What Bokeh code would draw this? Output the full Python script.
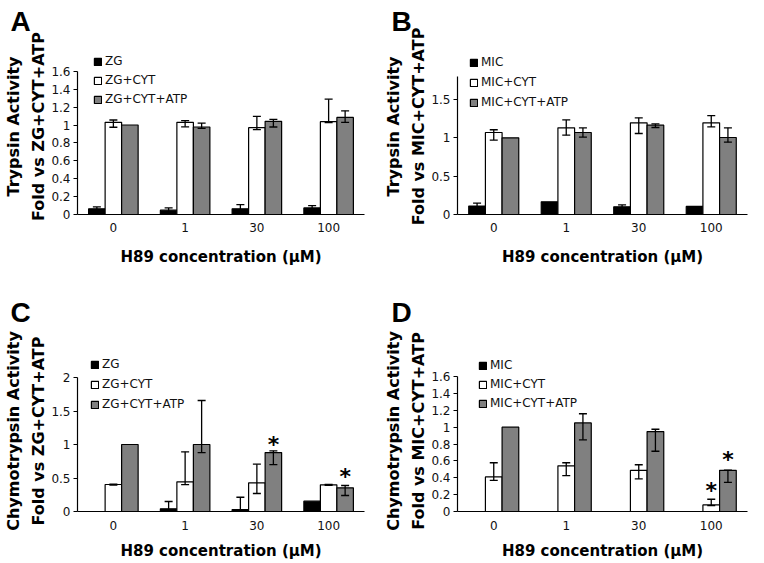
from bokeh.plotting import figure
from bokeh.models import (FactorRange, Range1d, FixedTicker, CustomJSTickFormatter, Whisker,
                          TeeHead, ColumnDataSource, Legend, LegendItem)
from bokeh.transform import dodge
from bokeh.layouts import column, row
from bokeh.embed import file_html
from bokeh.resources import INLINE

# ---------------- data ----------------
cats = ["0", "1", "30", "100"]
x_title = "H89 concentration (\u03bcM)"

# Panel A - Trypsin, ZG
A_ZG = [0.063, 0.048, 0.063, 0.074]
A_ZG_lo = [0.045, 0.03, 0.03, 0.05]
A_ZG_hi = [0.085, 0.074, 0.111, 0.10]
A_CYT = [1.03, 1.03, 0.97, 1.037]
A_CYT_lo = [0.975, 0.98, 0.948, 1.026]
A_CYT_hi = [1.056, 1.05, 1.096, 1.289]
A_ATP = [1.0, 0.978, 1.041, 1.085]
A_ATP_lo = [None, 0.963, 0.978, 1.03]
A_ATP_hi = [None, 1.022, 1.063, 1.159]

# Panel B - Trypsin, MIC
B_MIC = [0.11, 0.165, 0.10, 0.105]
B_MIC_lo = [0.07, None, 0.075, None]
B_MIC_hi = [0.149, None, 0.125, None]
B_CYT = [1.069, 1.13, 1.195, 1.195]
B_CYT_lo = [0.97, 1.034, 1.056, 1.142]
B_CYT_hi = [1.105, 1.233, 1.26, 1.29]
B_ATP = [1.0, 1.069, 1.164, 1.004]
B_ATP_lo = [None, 1.01, 1.134, 0.943]
B_ATP_hi = [None, 1.129, 1.181, 1.13]

# Panel C - Chymotrypsin, ZG
C_ZG = [0.0, 0.04, 0.03, 0.154]
C_ZG_lo = [None, 0.0, 0.0, None]
C_ZG_hi = [None, 0.149, 0.213, None]
C_CYT = [0.403, 0.443, 0.428, 0.398]
C_CYT_lo = [0.395, 0.40, 0.269, 0.39]
C_CYT_hi = [0.41, 0.89, 0.706, 0.405]
C_ATP = [1.0, 1.0, 0.88, 0.354]
C_ATP_lo = [None, 0.88, 0.70, 0.239]
C_ATP_hi = [None, 1.657, 0.905, 0.388]

# Panel D - Chymotrypsin, MIC
D_MIC = [0.0, 0.0, 0.0, 0.0]
D_MIC_lo = [None, None, None, None]
D_MIC_hi = [None, None, None, None]
D_CYT = [0.41, 0.542, 0.488, 0.078]
D_CYT_lo = [0.37, 0.425, 0.386, 0.07]
D_CYT_hi = [0.578, 0.578, 0.554, 0.145]
D_ATP = [1.0, 1.05, 0.948, 0.488]
D_ATP_lo = [None, 0.85, 0.714, 0.346]
D_ATP_hi = [None, 1.159, 0.975, 0.49]

# significance markers: (category, series index, y)
C_star_cat = ["30", "100"]
C_star_ser = [2, 2]
C_star_y = [1.07, 0.60]
D_star_cat = ["100", "100"]
D_star_ser = [1, 2]
D_star_y = [0.31, 0.68]

A_ticks = [0, 0.2, 0.4, 0.6, 0.8, 1, 1.2, 1.4, 1.6]
B_ticks = [0, 0.5, 1, 1.5]
C_ticks = [0, 0.5, 1, 1.5, 2]
D_ticks = [0, 0.2, 0.4, 0.6, 0.8, 1, 1.2, 1.4, 1.6]

colors = ["black", "white", "#808080"]
offsets = [-0.23, 0.0, 0.23]
BAR_W = 0.23

FONT = "DejaVu Sans"


def make_panel(letter, ytitle, names, vals, los, his, ticks, ax_max, y_end,
               width, height, left, right, top, bottom,
               leg_xy, leg_spacing, letter_offset, letter_standoff,
               star_cat=None, star_ser=None, star_y=None, xtick_standoff=11, xlab_standoff=10):
    p = figure(width=width, height=height, x_range=FactorRange(factors=cats),
               y_range=Range1d(0, y_end), output_backend="svg", toolbar_location=None,
               min_border_left=left, min_border_right=right, min_border_top=top,
               min_border_bottom=bottom, title=letter)
    p.outline_line_color = None
    p.xgrid.grid_line_color = None
    p.ygrid.grid_line_color = None
    p.background_fill_color = "white"

    p.title.align = "left"
    p.title.vertical_align = "bottom"
    p.title.offset = letter_offset
    p.title.standoff = letter_standoff
    p.title.text_font = "Liberation Sans"
    p.title.text_font_style = "bold"
    p.title.text_font_size = "28px"
    p.title.text_color = "black"

    items = []
    for i in range(3):
        src = ColumnDataSource(dict(cat=cats, v=vals[i]))
        r = p.vbar(x=dodge("cat", offsets[i], range=p.x_range), top="v", width=BAR_W,
                   source=src, fill_color=colors[i], line_color="black", line_width=1.2)
        items.append(LegendItem(label=names[i], renderers=[r]))
        wc, wl, wh = [], [], []
        for c, lo, hi in zip(cats, los[i], his[i]):
            if lo is not None and hi is not None:
                wc.append(c); wl.append(lo); wh.append(hi)
        if wc:
            wsrc = ColumnDataSource(dict(cat=wc, lo=wl, hi=wh))
            w = Whisker(source=wsrc, base=dodge("cat", offsets[i], range=p.x_range),
                        lower="lo", upper="hi", dimension="height", line_color="black",
                        line_width=1.3, level="annotation",
                        upper_head=TeeHead(size=8, line_width=1.3, line_color="black"),
                        lower_head=TeeHead(size=8, line_width=1.3, line_color="black"))
            p.add_layout(w)

    if star_cat:
        for c, s, yv in zip(star_cat, star_ser, star_y):
            ssrc = ColumnDataSource(dict(cat=[c], y=[yv], t=["*"]))
            p.text(x=dodge("cat", offsets[s], range=p.x_range), y="y", text="t", source=ssrc,
                   text_align="center", text_baseline="middle", text_font_size="22px",
                   text_font_style="bold", text_color="black", y_offset=5,
                   text_font={"value": FONT})

    leg = Legend(items=items, location=leg_xy, glyph_width=9, glyph_height=9,
                 label_height=9, label_width=10, spacing=leg_spacing, padding=0, margin=0,
                 label_standoff=3, border_line_color=None, background_fill_alpha=0,
                 label_text_font=FONT, label_text_font_size="12px", label_text_color="#111")
    p.add_layout(leg)

    # axes
    xa = p.xaxis[0]
    xa.axis_line_color = "black"
    xa.axis_line_width = 1.2
    xa.major_tick_line_color = None
    xa.major_tick_out = 0
    xa.major_tick_in = 0
    xa.major_label_standoff = xtick_standoff
    xa.major_label_text_font = FONT
    xa.major_label_text_font_size = "12px"
    xa.major_label_text_color = "#111"
    xa.axis_label = x_title
    xa.axis_label_text_font = FONT
    xa.axis_label_text_font_style = "bold"
    xa.axis_label_text_font_size = "15px"
    xa.axis_label_text_color = "black"
    xa.axis_label_standoff = xlab_standoff

    ya = p.yaxis[0]
    ya.bounds = (0, ax_max)
    ya.ticker = FixedTicker(ticks=ticks)
    ya.formatter = CustomJSTickFormatter(code="return String(Math.round(tick*10)/10)")
    ya.axis_line_color = "black"
    ya.axis_line_width = 1.2
    ya.major_tick_out = 4
    ya.major_tick_in = 0
    ya.major_tick_line_color = "black"
    ya.minor_tick_line_color = None
    ya.major_label_standoff = 3
    ya.major_label_text_font = FONT
    ya.major_label_text_font_size = "12px"
    ya.major_label_text_color = "#111"
    ya.axis_label = ytitle
    ya.axis_label_text_font = FONT
    ya.axis_label_text_font_style = "bold"
    ya.axis_label_text_font_size = "16px"
    ya.axis_label_text_line_height = 1.35
    ya.axis_label_text_color = "black"
    ya.axis_label_standoff = 0
    return p


pA = make_panel("A", "Trypsin Activity\nFold vs ZG+CYT+ATP",
                ["ZG", "ZG+CYT", "ZG+CYT+ATP"],
                [A_ZG, A_CYT, A_ATP], [A_ZG_lo, A_CYT_lo, A_ATP_lo], [A_ZG_hi, A_CYT_hi, A_ATP_hi],
                A_ticks, 1.6, 177 / 90.0, 380, 270, 70, 16, 38, 55,
                (16, 108), 5, -67, 4, xtick_standoff=8, xlab_standoff=13)
pB = make_panel("B", "Trypsin Activity\nFold vs MIC+CYT+ATP",
                ["MIC", "MIC+CYT", "MIC+CYT+ATP"],
                [B_MIC, B_CYT, B_ATP], [B_MIC_lo, B_CYT_lo, B_ATP_lo], [B_MIC_hi, B_CYT_hi, B_ATP_hi],
                B_ticks, 1.8, 176 / 76.7, 368, 270, 74, 1, 38, 56,
                (12, 105), 6, -66, 4, xtick_standoff=8, xlab_standoff=13)
pC = make_panel("C", "Chymotrypsin Activity\nFold vs ZG+CYT+ATP",
                ["ZG", "ZG+CYT", "ZG+CYT+ATP"],
                [C_ZG, C_CYT, C_ATP], [C_ZG_lo, C_CYT_lo, C_ATP_lo], [C_ZG_hi, C_CYT_hi, C_ATP_hi],
                C_ticks, 2.0, 161 / 67.0, 380, 293, 70, 16, 80, 52,
                (13, 100), 6, -67, 45, C_star_cat, C_star_ser, C_star_y,
                xtick_standoff=9, xlab_standoff=9)
pD = make_panel("D", "Chymotrypsin Activity\nFold vs MIC+CYT+ATP",
                ["MIC", "MIC+CYT", "MIC+CYT+ATP"],
                [D_MIC, D_CYT, D_ATP], [D_MIC_lo, D_CYT_lo, D_ATP_lo], [D_MIC_hi, D_CYT_hi, D_ATP_hi],
                D_ticks, 1.6, 163 / 85.4, 368, 293, 74, 1, 80, 50,
                (21, 101), 5, -66, 45, D_star_cat, D_star_ser, D_star_y,
                xtick_standoff=9, xlab_standoff=9)

layout = column(row(pA, pB, spacing=0), row(pC, pD, spacing=0), spacing=0)

open("out.html", "w").write(file_html(layout, INLINE))
